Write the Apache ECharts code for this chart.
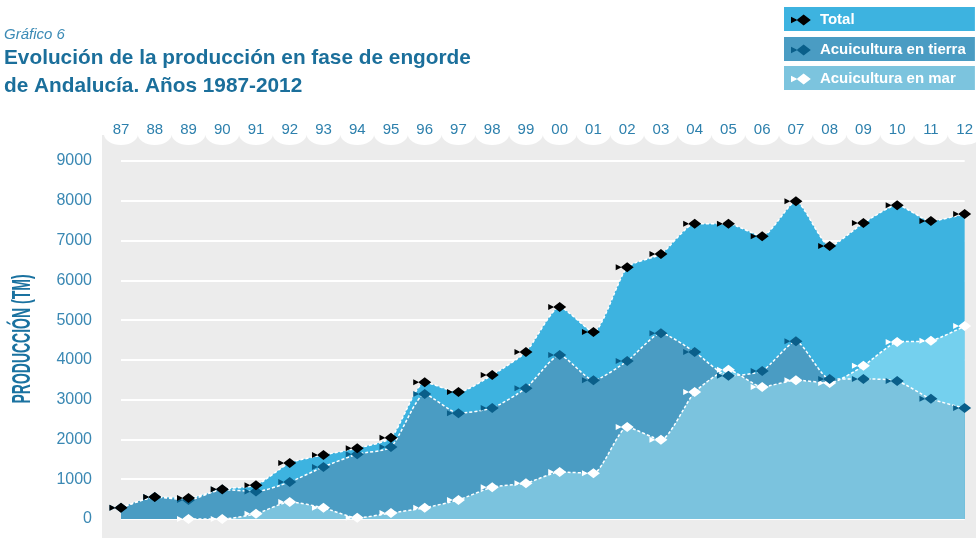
<!DOCTYPE html>
<html>
<head>
<meta charset="utf-8">
<title>Gráfico 6</title>
<script src="https://cdn.jsdelivr.net/npm/echarts@6/dist/echarts.min.js"></script>
<style>
html, body { margin: 0; padding: 0; background: #fff; }
#main { width: 976px; height: 538px; }
</style>
</head>
<body>
<div id="main"></div>
<script>
// años (eje superior)
var years = [ '87', '88', '89', '90', '91', '92', '93', '94', '95', '96', '97',
		'98', '99', '00', '01', '02', '03', '04', '05', '06', '07', '08', '09',
		'10', '11', '12' ];
// producción total (TM)
var total = [ 280, 550, 530, 750, 850, 1410, 1610, 1780, 2040, 3440, 3190,
		3620, 4200, 5330, 4700, 6330, 6660, 7420, 7420, 7110, 7990, 6860, 7440,
		7890, 7490, 7670 ];
// acuicultura en tierra (TM)
var tierra = [ 280, 550, 480, 740, 690, 930, 1310, 1630, 1810, 3140, 2660,
		2790, 3290, 4120, 3490, 3970, 4670, 4200, 3600, 3720, 4470, 3520, 3520,
		3470, 3020, 2790 ];
// acuicultura en mar (TM), sin datos en 87 y 88
var mar = [ null, null, 0, 0, 130, 430, 280, 30, 150, 280, 480, 800, 900,
		1180, 1150, 2310, 1990, 3190, 3750, 3320, 3490, 3420, 3850, 4450, 4480,
		4850 ];
var yTicks = [ 0, 9000, 1000 ]; // min, max, intervalo

var FONT = 'Liberation Sans';
// pez: cola + rombo
var fish = 'path://M0,2L0,8L6,5ZM5,5L11.5,0L18,5L11.5,10Z';

var myChart = echarts.init(document.getElementById('main'));

function areaSerie(name, data, color, opacity) {
	return {
		type : 'line',
		name : name + '_area',
		data : data,
		smooth : 0.2,
		showSymbol : false,
		silent : true,
		z : 2,
		lineStyle : {
			width : 0
		},
		areaStyle : {
			color : color,
			opacity : opacity
		}
	};
}

function lineSerie(name, data, markColor) {
	return {
		type : 'line',
		name : name,
		data : data,
		smooth : 0.2,
		z : 3,
		symbol : fish,
		symbolSize : [ 18, 10 ],
		symbolOffset : [ -2.5, 0 ],
		itemStyle : {
			color : markColor,
			opacity : 1
		},
		lineStyle : {
			color : '#ffffff',
			width : 1.5,
			type : [ 3, 2 ]
		}
	};
}

function legendBox(name, top, bg) {
	return {
		data : [ {
			name : name,
			icon : fish
		} ],
		left : 784,
		top : top,
		orient : 'horizontal',
		backgroundColor : bg,
		borderRadius : 0,
		padding : [ 5, 6, 3, 7 ],
		itemWidth : 28,
		itemHeight : 11,
		selectedMode : false,
		textStyle : {
			color : '#ffffff',
			fontFamily : FONT,
			fontWeight : 'bold',
			fontSize : 15,
			lineHeight : 16,
			width : 149
		}
	};
}

var option = {
	animation : false,
	title : [ {
		text : 'Gráfico 6',
		left : 4,
		top : 27,
		padding : 0,
		textStyle : {
			fontFamily : FONT,
			fontStyle : 'italic',
			fontWeight : 'normal',
			fontSize : 15,
			color : '#3b8ab5'
		}
	}, {
		text : 'Evolución de la producción en fase de engorde\nde Andalucía. Años 1987-2012',
		left : 4,
		top : 44,
		padding : 0,
		textStyle : {
			fontFamily : FONT,
			fontWeight : 'bold',
			fontSize : 20.8,
			lineHeight : 28.5,
			color : '#1b6f9b'
		}
	} ],
	legend : [ legendBox('Total', 7, '#3db3e0'),
			legendBox('Acuicultura en tierra', 37, '#4a9cc3'),
			legendBox('Acuicultura en mar', 66, '#7cc4de') ],
	graphic : [ {
		type : 'rect',
		z : -10,
		shape : {
			x : 102,
			y : 135,
			width : 880,
			height : 410
		},
		style : {
			fill : '#ececec'
		}
	}, {
		type : 'text',
		x : 23,
		y : 339,
		rotation : Math.PI / 2,
		scaleX : 0.56,
		style : {
			text : 'PRODUCCIÓN (TM)',
			fontFamily : FONT,
			fontWeight : 'bold',
			fontSize : 25,
			fill : '#1a72a0',
			textAlign : 'center',
			textVerticalAlign : 'middle'
		}
	} ],
	grid : {
		left : 121,
		right : 11,
		top : 161,
		bottom : 19
	},
	xAxis : {
		type : 'category',
		position : 'top',
		data : years,
		boundaryGap : false,
		z : 10,
		axisLine : {
			show : false
		},
		axisTick : {
			show : false
		},
		axisLabel : {
			margin : 24,
			color : '#2d80ad',
			fontFamily : FONT,
			fontSize : 15
		}
	},
	yAxis : {
		type : 'value',
		min : yTicks[0],
		max : yTicks[1],
		interval : yTicks[2],
		axisLine : {
			show : false
		},
		axisTick : {
			show : false
		},
		axisLabel : {
			margin : 29,
			color : '#3a88b3',
			fontFamily : FONT,
			fontSize : 16,
			formatter : function(v) {
				return String(v);
			}
		},
		splitLine : {
			lineStyle : {
				color : '#ffffff',
				width : 2
			}
		}
	},
	series : [
			// ondas blancas bajo cada año
			{
				type : 'custom',
				silent : true,
				z : 0,
				clip : false,
				data : years.map(function(y, i) {
					return [ i ];
				}),
				renderItem : function(params, api) {
					var p = api.coord([ api.value(0), yTicks[1] ]);
					return {
						type : 'circle',
						x : p[0],
						y : p[1] - 27,
						scaleY : 0.65,
						shape : {
							cx : 0,
							cy : 0,
							r : 17
						},
						style : {
							fill : '#ffffff'
						}
					};
				}
			}, areaSerie('Total', total, '#3db3e0', 1),
			areaSerie('Acuicultura en tierra', tierra, '#4a9cc3', 1),
			areaSerie('Acuicultura en mar', mar, '#b8f4ff', 0.45),
			lineSerie('Acuicultura en mar', mar, '#ffffff'),
			lineSerie('Acuicultura en tierra', tierra, '#0a5f8a'),
			lineSerie('Total', total, '#000000') ]
};
myChart.setOption(option);
</script>
</body>
</html>
